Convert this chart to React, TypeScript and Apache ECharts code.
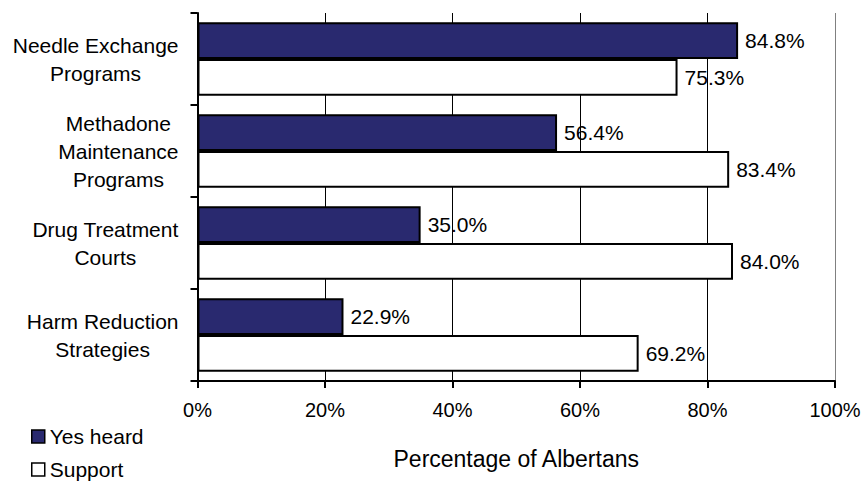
import React, { useEffect, useRef } from "react";
import * as echarts from "echarts";

const categories: string[] = [
  "Needle Exchange\nPrograms",
  "Methadone\nMaintenance\nPrograms",
  "Drug Treatment\nCourts",
  "Harm Reduction\nStrategies",
];
const yesHeard: number[] = [84.8, 56.4, 35.0, 22.9];
const support: number[] = [75.3, 83.4, 84.0, 69.2];
const seriesNames: string[] = ["Yes heard", "Support"];
const axisTitle = "Percentage of Albertans";

const FONT = "'Liberation Sans', Arial, Helvetica, sans-serif";
const NAVY = "#29296f";

export default function App() {
  const ref = useRef<HTMLDivElement>(null);
  useEffect(() => {
    if (!ref.current) return;
    const chart = echarts.init(ref.current, undefined, { renderer: "svg" });
    const valueLabel = {
      show: true,
      position: "right" as const,
      distance: 7,
      color: "#000",
      fontSize: 21,
      fontFamily: FONT,
      formatter: (p: any) => Number(p.value).toFixed(1) + "%",
    };
    chart.setOption({
      animation: false,
      backgroundColor: "#fff",
      textStyle: { fontFamily: FONT },
      grid: { left: 197.5, right: 33, top: 13, bottom: 102, containLabel: false },
      legend: {
        orient: "vertical",
        left: 31,
        top: 426,
        height: 70,
        padding: 0,
        itemWidth: 13,
        itemHeight: 13,
        itemGap: 12,
        itemTextGap: 5,
        icon: "rect",
        textStyle: { fontSize: 21, color: "#000", fontFamily: FONT, lineHeight: 21 },
        data: [
          { name: seriesNames[0], itemStyle: { color: NAVY, borderColor: "#000", borderWidth: 1.5 } },
          { name: seriesNames[1], itemStyle: { color: "#fff", borderColor: "#000", borderWidth: 1.5 } },
        ],
      },
      xAxis: {
        type: "value",
        min: 0,
        max: 100,
        interval: 20,
        name: axisTitle,
        nameLocation: "middle",
        nameGap: 66,
        nameTextStyle: { fontSize: 23, color: "#000", fontFamily: FONT },
        axisLine: { show: true, lineStyle: { color: "#000", width: 2 } },
        axisTick: { show: true, length: 7, lineStyle: { color: "#000", width: 2 } },
        axisLabel: {
          fontSize: 20,
          color: "#000",
          fontFamily: FONT,
          margin: 19,
          formatter: "{value}%",
        },
        splitLine: {
          show: true,
          lineStyle: {
            color: ["#000", "#000", "#000", "#000", "#000", "#808080"],
            width: 1,
          },
        },
      },
      yAxis: {
        type: "category",
        inverse: true,
        data: categories,
        axisLine: { show: true, lineStyle: { color: "#000", width: 2 } },
        axisTick: { show: true, length: 7, lineStyle: { color: "#000", width: 2 } },
        axisLabel: {
          margin: 19,
          align: "right",
          fontSize: 21,
          lineHeight: 28,
          color: "#000",
          fontFamily: FONT,
          formatter: (v: string) =>
            v
              .split("\n")
              .map((l) => "{c|" + l + "}")
              .join("\n"),
          rich: {
            c: {
              align: "center",
              fontSize: 21,
              lineHeight: 28,
              color: "#000",
              fontFamily: FONT,
            },
          },
        },
        splitLine: { show: false },
      },
      series: [
        {
          name: seriesNames[0],
          type: "bar",
          data: yesHeard,
          barGap: "0%",
          barCategoryGap: "20%",
          itemStyle: { color: NAVY, borderColor: "#000", borderWidth: 2 },
          label: valueLabel,
        },
        {
          name: seriesNames[1],
          type: "bar",
          data: support,
          barGap: "0%",
          barCategoryGap: "20%",
          itemStyle: { color: "#fff", borderColor: "#000", borderWidth: 2 },
          label: valueLabel,
        },
      ],
    });
    return () => chart.dispose();
  }, []);
  return (
    <div
      ref={ref}
      style={{ position: "fixed", left: 0, top: 0, width: 868, height: 483, background: "#fff" }}
    />
  );
}
